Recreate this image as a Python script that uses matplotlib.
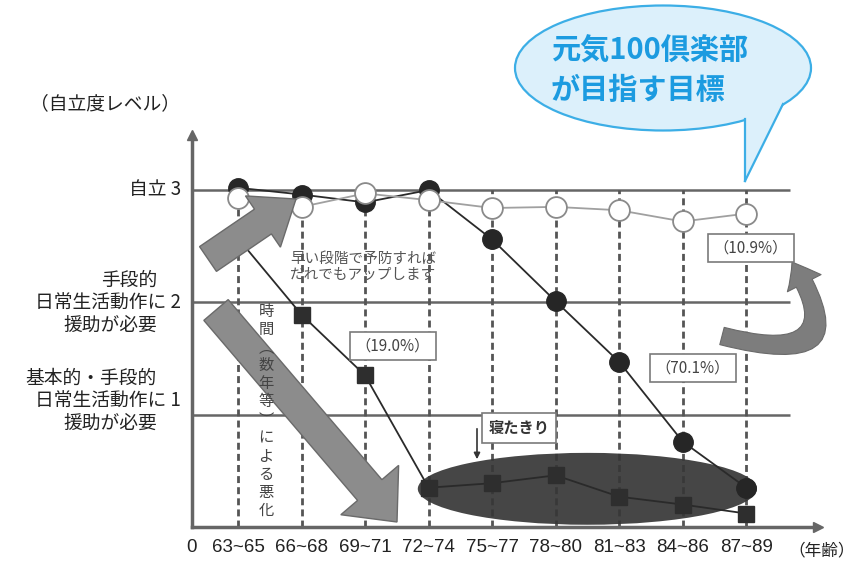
import matplotlib
matplotlib.use("Agg")
import matplotlib.pyplot as plt
from matplotlib.patches import Ellipse, Polygon, FancyArrow, FancyArrowPatch
from matplotlib.path import Path

plt.rcParams['font.family'] = ['Noto Sans CJK JP', 'DejaVu Sans']

# data (independence level per age group)
ages = ["63~65", "66~68", "69~71", "72~74", "75~77", "78~80", "81~83", "84~86", "87~89"]
goal = [2.93, 2.85, 2.97, 2.91, 2.84, 2.85, 2.82, 2.72, 2.79]      # white circles
gradual = [3.02, 2.96, 2.89, 3.00, 2.56, 2.01, 1.47, 0.76, 0.35]   # black circles
early = [2.57, 1.89, 1.35, 0.35, 0.39, 0.46, 0.27, 0.20, 0.12]     # black squares
levels = [1, 2, 3]

W, H = 854, 570
fig = plt.figure(figsize=(W / 100, H / 100), dpi=100)
fig.patch.set_facecolor('white')


def P(px, py):
    # pixel (top-left origin) -> inches for fig.dpi_scale_trans
    return (px / 100, (H - py) / 100)


def fx(px):
    return px / W


def fy(py):
    return 1 - py / H


xmin, xmax = 0.2756, 10.13
ax = fig.add_axes([fx(192), fy(527), (818 - 192) / W, (527 - 135) / H])
ax.set_xlim(xmin, xmax)
ax.set_ylim(0, 3.49)
for s in ['top', 'right']:
    ax.spines[s].set_visible(False)
for s in ['left', 'bottom']:
    ax.spines[s].set_color('#666666')
    ax.spines[s].set_linewidth(2.5)
ax.plot(1, 0, '>', transform=ax.transAxes, clip_on=False, color='#666666', ms=7)
ax.plot(0, 1, '^', transform=ax.transAxes, clip_on=False, color='#666666', ms=7)

xs = list(range(1, len(ages) + 1))
ax.set_xticks([xmin] + xs, ['0'] + ages, family=['Liberation Sans', 'DejaVu Sans'],
              fontsize=13.5, color='#222222')
ax.tick_params(axis='x', length=0, pad=9)
ax.set_yticks([])

# grid
ax.hlines(levels, xmin, 9.69, color='#666666', lw=1.8, zorder=1)
for x in xs:
    ax.plot([x, x], [0, 3], color='#555555', lw=2, dashes=(2.5, 1.5), zorder=1)

# bedridden zone
ax.add_patch(Ellipse((6.5, 0.34), 5.34, 0.64, fc='#363636', ec='none', alpha=0.92, zorder=2))

# big arrows
fig.add_artist(FancyArrow(*P(208, 259), 88 / 100, 60 / 100, width=0.30, head_width=0.62,
                          head_length=0.40, length_includes_head=True,
                          fc='#8c8c8c', ec='#6a6a6a', lw=1, transform=fig.dpi_scale_trans, zorder=3))
fig.add_artist(FancyArrow(*P(216, 310), 181 / 100, -212 / 100, width=0.32, head_width=0.76,
                          head_length=0.42, length_includes_head=True,
                          fc='#8c8c8c', ec='#6a6a6a', lw=1, transform=fig.dpi_scale_trans, zorder=3))

# series
ax.plot(xs, goal, color='#a0a0a0', lw=1.3, marker='o', ms=15, mfc='white',
        mec='#8a8a8a', mew=1.3, zorder=6)
ax.plot(xs, gradual, color='#2a2a2a', lw=1.3, marker='o', ms=14, mfc='#262626',
        mec='#262626', zorder=5)
ax.plot(xs, early, color='#2a2a2a', lw=1.3, marker='s', ms=11, mfc='#2e2e2e',
        mec='#2e2e2e', zorder=5)

# labels on the left
fig.text(fx(105), fy(104), '（自立度レベル）', ha='center', va='center', fontsize=13.5, color='#222222')
lab = dict(ha='right', va='center', fontsize=13.5, color='#222222')
fig.text(fx(181), fy(190), '自立 3', **lab)
fig.text(fx(157), fy(280), '手段的', **lab)
fig.text(fx(181), fy(303), '日常生活動作に 2', **lab)
fig.text(fx(157), fy(325), '援助が必要', **lab)
fig.text(fx(157), fy(378), '基本的・手段的', **lab)
fig.text(fx(181), fy(401), '日常生活動作に 1', **lab)
fig.text(fx(157), fy(423), '援助が必要', **lab)
fig.text(fx(822), fy(551), '（年齢）', ha='center', va='center', fontsize=12, color='#222222')

# annotations inside the plot
box = dict(boxstyle='square,pad=0.35', fc='white', ec='#7a7a7a', lw=1.2)
fig.text(fx(393), fy(346), '（19.0%）', ha='center', va='center', fontsize=11, color='#444444', bbox=box, zorder=7)
fig.text(fx(751), fy(248), '（10.9%）', ha='center', va='center', fontsize=11, color='#444444', bbox=box, zorder=7)
fig.text(fx(693), fy(368), '（70.1%）', ha='center', va='center', fontsize=11, color='#444444', bbox=box, zorder=7)
fig.text(fx(519), fy(428), '寝たきり', ha='center', va='center', fontsize=11, color='#333333',
         fontweight='bold', bbox=dict(boxstyle='square,pad=0.45', fc='white', ec='#7a7a7a', lw=1.2), zorder=7)
fig.add_artist(FancyArrowPatch(P(477, 426), P(477, 462), arrowstyle='-|>,head_width=0.15,head_length=0.3',
                               mutation_scale=12, color='#333333', lw=1.2,
                               transform=fig.dpi_scale_trans, zorder=7))
fig.text(fx(290), fy(267), '早い段階で予防すれば\nだれでもアップします', ha='left', va='center',
         fontsize=10.5, color='#555555', linespacing=1.15, zorder=7)
vert = '時間︵数年等︶による悪化'
fig.text(fx(266), fy(411), '\n'.join(vert), ha='center', va='center', fontsize=11,
         color='#444444', linespacing=1.08, zorder=7)

# curved arrow from 70.1% up to 10.9%
curve = Path([P(722, 336), P(862, 372), P(792, 262)],
             [Path.MOVETO, Path.CURVE3, Path.CURVE3])
fig.add_artist(FancyArrowPatch(path=curve,
                               arrowstyle='simple,head_width=1.7,head_length=1.1,tail_width=0.8',
                               mutation_scale=16, fc='#7d7d7d', ec='#6a6a6a', lw=0.8,
                               transform=fig.dpi_scale_trans, zorder=7))

# speech bubble
bub_fc, bub_ec = '#dcf0fb', '#3caee6'
fig.add_artist(Ellipse(P(663, 68), 2.96, 1.25, fc=bub_fc, ec=bub_ec, lw=1.6,
                       transform=fig.dpi_scale_trans, zorder=8))
fig.add_artist(Polygon([P(745, 110), P(745, 181), P(786, 96)], closed=True, fc=bub_fc, ec='none',
                       transform=fig.dpi_scale_trans, zorder=9))
fig.add_artist(plt.Line2D(*zip(P(745, 119), P(745, 181)), color=bub_ec, lw=1.6,
                          transform=fig.dpi_scale_trans, zorder=9))
fig.add_artist(plt.Line2D(*zip(P(745, 181), P(783, 104)), color=bub_ec, lw=1.6,
                          transform=fig.dpi_scale_trans, zorder=9))
fig.text(fx(551), fy(51), '元気100倶楽部', ha='left', va='center', fontsize=21,
         fontweight='bold', color='#1c9be0', zorder=10)
fig.text(fx(551), fy(90), 'が目指す目標', ha='left', va='center', fontsize=21,
         fontweight='bold', color='#1c9be0', zorder=10)

fig.savefig('out.png', dpi=100)
